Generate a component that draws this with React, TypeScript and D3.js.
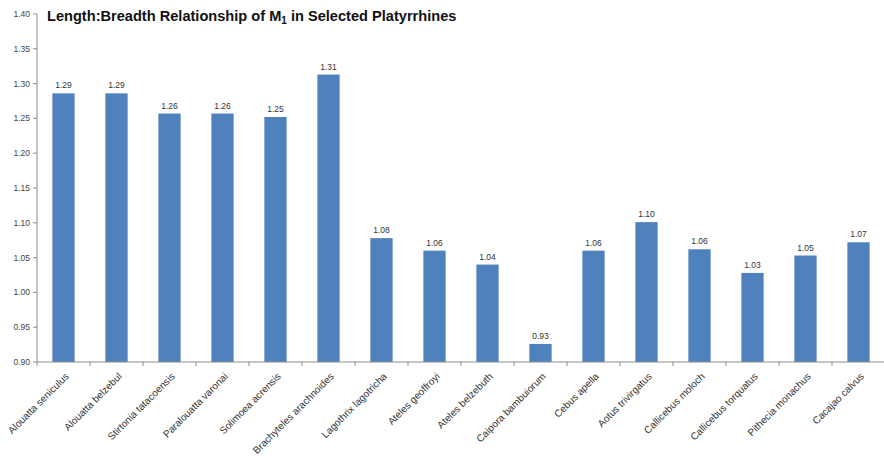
import React from "react";
import * as d3 from "d3";

const categories = [
  "Alouatta seniculus",
  "Alouatta belzebul",
  "Stirtonia tatacoensis",
  "Paralouatta varonai",
  "Solimoea acrensis",
  "Brachyteles arachnoides",
  "Lagothrix lagotricha",
  "Ateles geoffroyi",
  "Ateles belzebuth",
  "Caipora bambuiorum",
  "Cebus apella",
  "Aotus trivirgatus",
  "Callicebus moloch",
  "Callicebus torquatus",
  "Pithecia monachus",
  "Cacajao calvus",
];
const values = [
  1.286, 1.286, 1.257, 1.257, 1.252, 1.313, 1.078, 1.06, 1.04, 0.926, 1.06,
  1.101, 1.062, 1.028, 1.053, 1.072,
];
const valueLabels = [
  "1.29", "1.29", "1.26", "1.26", "1.25", "1.31", "1.08", "1.06", "1.04",
  "0.93", "1.06", "1.10", "1.06", "1.03", "1.05", "1.07",
];
const yTicks = [0.9, 0.95, 1.0, 1.05, 1.1, 1.15, 1.2, 1.25, 1.3, 1.35, 1.4];

const W = 884;
const H = 456;
const left = 37;
const right = 885;
const top = 14;
const bottom = 362;

export default function App() {
  const x = d3.scaleBand<string>().domain(categories).range([left, right]).paddingInner(0.58).paddingOuter(0.29);
  const xb = d3.scaleBand<string>().domain(categories).range([left, right]);
  const y = d3.scaleLinear().domain([0.9, 1.4]).range([bottom, top]);
  const font = "Liberation Sans, Arial, sans-serif";
  const axisColor = "#8c8c8c";
  return (
    <svg width={W} height={H} style={{ position: "absolute", left: 0, top: 0, background: "#fff" }} fontFamily={font}>
      {/* title */}
      <text x={47} y={21} fontSize={14.6} fontWeight="bold" fill="#111">
        Length:Breadth Relationship of M
        <tspan fontSize={10} dy={3}>1</tspan>
        <tspan dy={-3}> in Selected Platyrrhines</tspan>
      </text>
      {/* bars */}
      {categories.map((c, i) => (
        <rect key={c} x={x(c)} y={y(values[i])} width={x.bandwidth()} height={bottom - y(values[i])} fill="#4F81BD" />
      ))}
      {categories.map((c, i) => (
        <text key={"v" + c} x={(x(c) as number) + x.bandwidth() / 2} y={y(values[i]) - 5} fontSize={8.5} textAnchor="middle" fill="#333">
          {valueLabels[i]}
        </text>
      ))}
      {/* y axis */}
      <line x1={left} x2={left} y1={top} y2={bottom} stroke={axisColor} strokeWidth={1} />
      {yTicks.map((t) => (
        <g key={t}>
          <line x1={left - 4} x2={left} y1={y(t)} y2={y(t)} stroke={axisColor} />
          <text x={30} y={y(t) + 3} fontSize={8.5} textAnchor="end" fill="#444">
            {d3.format(".2f")(t)}
          </text>
        </g>
      ))}
      {/* x axis */}
      <line x1={left} x2={right} y1={bottom} y2={bottom} stroke={axisColor} />
      {categories.map((c) => (
        <line key={"t" + c} x1={xb(c)} x2={xb(c)} y1={bottom} y2={bottom + 4} stroke={axisColor} />
      ))}
      {categories.map((c) => {
        const cx = (xb(c) as number) + xb.bandwidth() / 2 + 6;
        const cy = bottom + 15;
        return (
          <text key={"l" + c} x={cx} y={cy} fontSize={10} textAnchor="end" fill="#333" transform={`rotate(-45 ${cx} ${cy})`}>
            {c}
          </text>
        );
      })}
    </svg>
  );
}
